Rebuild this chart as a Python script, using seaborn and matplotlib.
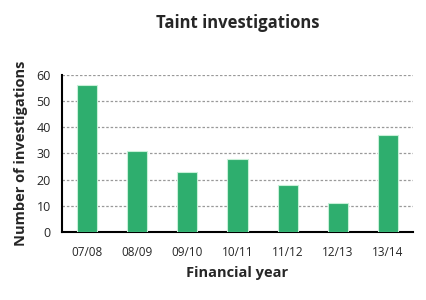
import matplotlib
matplotlib.use("Agg")
import matplotlib.pyplot as plt
import seaborn as sns
import pandas as pd
import numpy as np

years = ["07/08", "08/09", "09/10", "10/11", "11/12", "12/13", "13/14"]
investigations = [56, 31, 23, 28, 18, 11, 37]

sns.set_style("white")
plt.rcParams['font.family'] = ['Open Sans', 'DejaVu Sans']

df = pd.DataFrame({"year": years, "n": investigations})

fig = plt.figure(figsize=(4.26, 3.0), dpi=100)
ax = fig.add_axes([0.1455, 0.2267, 0.824, 0.5233])

sns.barplot(data=df, x="year", y="n", color="#2eae6e", width=0.4,
            edgecolor="#c8f0d8", linewidth=0.8, saturation=1, ax=ax, zorder=3)

ax.set_ylim(0, 60)
ax.set_xlim(-0.5, len(years) - 0.5)
ax.set_yticks(range(0, 61, 10))
ax.yaxis.grid(True, linestyle=(0, (2, 1.5)), color="#999999", linewidth=0.9, zorder=0)
ax.set_axisbelow(True)

ax.set_xticks(np.arange(-0.5, len(years), 1.0))
ax.set_xticklabels([])
ax.set_xticks(np.arange(len(years)), minor=True)
ax.set_xticklabels(years, minor=True, fontsize=8.5)
ax.tick_params(axis="x", which="minor", length=0, pad=10)
ax.tick_params(axis="x", which="major", direction="out", length=4, width=1.2, color="black")
ax.tick_params(axis="y", direction="out", length=4, width=1.2, color="black", labelsize=9, pad=4)

for s in ["top", "right"]:
    ax.spines[s].set_visible(False)
for s in ["left", "bottom"]:
    ax.spines[s].set_color("black")
    ax.spines[s].set_linewidth(1.5)

ax.set_xlabel("Financial year", fontsize=10.5, fontweight="bold", labelpad=5)
ax.set_ylabel("Number of investigations", fontsize=10.5, fontweight="bold", labelpad=6)
fig.text(0.5575, 0.925, "Taint investigations", ha="center", va="center",
         fontsize=12, fontweight="bold")

fig.savefig("out.png", dpi=100)
